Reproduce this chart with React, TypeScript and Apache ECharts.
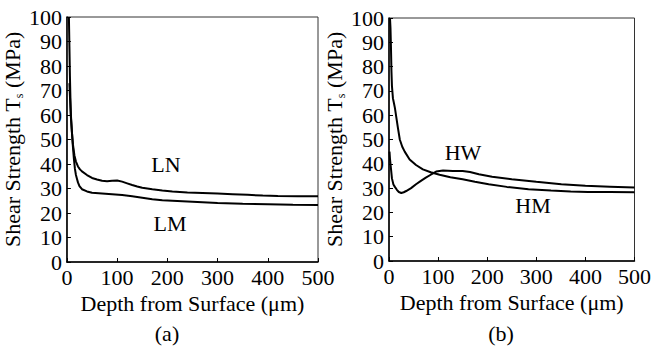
import React, { useEffect, useRef } from "react";
import * as echarts from "echarts";

const xTicks = [0, 100, 200, 300, 400, 500];
const yTicks = [0, 10, 20, 30, 40, 50, 60, 70, 80, 90, 100];

// Panel (a)
const lnData: [number, number][] = [
  [4, 100], [5, 88], [6, 76], [7, 67], [8, 60], [10, 53], [12, 48], [15, 43.5], [18, 41],
  [22, 39], [26, 37.8], [30, 37], [40, 35.5], [50, 34.3], [60, 33.7], [70, 33.2], [80, 33],
  [90, 33.2], [100, 33.3], [110, 32.8], [120, 32.1], [130, 31.4], [140, 30.8], [150, 30.3],
  [170, 29.7], [190, 29.2], [210, 28.8], [240, 28.4], [270, 28.2], [300, 28], [330, 27.7],
  [360, 27.4], [390, 27.1], [420, 26.9], [460, 26.8], [500, 26.8],
];
const lmData: [number, number][] = [
  [5, 73], [6, 68], [7, 63], [8, 59], [10, 53], [12, 47], [14, 42], [16, 38], [18, 35.5],
  [20, 34], [22, 32.5], [25, 31], [30, 29.7], [40, 28.8], [50, 28.3], [70, 28], [90, 27.7],
  [110, 27.3], [130, 26.8], [150, 26.2], [170, 25.6], [190, 25.2], [210, 25], [240, 24.7],
  [270, 24.4], [300, 24.1], [350, 23.8], [400, 23.6], [450, 23.4], [500, 23.3],
];

// Panel (b)
const hmData: [number, number][] = [
  [2, 100], [3, 96], [4, 88], [5, 78], [6, 72], [8, 67], [10, 65], [12, 63], [15, 59],
  [18, 55], [22, 50], [27, 47], [32, 45], [42, 41.8], [55, 39.5], [69, 37.7], [85, 36.5],
  [103, 35.5], [125, 34.5], [150, 33.6], [175, 32.6], [203, 31.6], [240, 30.5], [284, 29.5],
  [330, 29], [370, 28.6], [405, 28.4], [450, 28.4], [500, 28.3],
];
const hwData: [number, number][] = [
  [1, 45], [2, 42], [4, 38], [6, 34], [9, 31.5], [12, 30.5], [16, 29.3], [20, 28.4], [25, 28],
  [30, 28.3], [35, 28.8], [45, 30], [55, 31.6], [65, 33], [75, 34.3], [85, 35.5], [96, 36.8],
  [110, 37.2], [130, 37], [150, 37], [165, 36.6], [183, 35.7], [210, 34.7], [250, 33.6],
  [300, 32.6], [351, 31.6], [400, 31], [450, 30.6], [500, 30.2],
];

const FONT = "Liberation Serif";

export default function App() {
  const ref = useRef<HTMLDivElement>(null);
  useEffect(() => {
    document.body.style.margin = "0";
    const chart = echarts.init(ref.current!, null, { renderer: "svg" });
    const mkX = (gridIndex: number) => ({
      type: "value",
      gridIndex,
      min: xTicks[0],
      max: xTicks[xTicks.length - 1],
      interval: 100,
      name: "Depth from Surface (μm)",
      nameLocation: "middle",
      nameGap: 25,
      nameTextStyle: { fontFamily: FONT, fontSize: 22, color: "#000" },
      axisLine: { show: true, onZero: false, lineStyle: { color: "#000", width: 1.5 } },
      axisTick: { show: true, inside: true, length: 4, lineStyle: { color: "#000" } },
      axisLabel: { fontFamily: FONT, fontSize: 22, color: "#000", margin: 4 },
      splitLine: { show: false },
    });
    const mkY = (gridIndex: number, gap: number) => ({
      type: "value",
      gridIndex,
      min: yTicks[0],
      max: yTicks[yTicks.length - 1],
      interval: 10,
      name: "{a|Shear Strength T}{s|s}{a| (MPa)}",
      nameLocation: "middle",
      nameRotate: 90,
      nameGap: gap,
      nameTextStyle: {
        fontFamily: FONT,
        fontSize: 22,
        color: "#000",
        rich: {
          a: { fontFamily: FONT, fontSize: 22, color: "#000", lineHeight: 26 },
          s: { fontFamily: FONT, fontSize: 12, color: "#000", lineHeight: 14, verticalAlign: "bottom" },
        },
      },
      axisLine: { show: true, onZero: false, lineStyle: { color: "#000", width: 1.5 } },
      axisTick: { show: true, inside: true, length: 4, lineStyle: { color: "#000" } },
      axisLabel: { fontFamily: FONT, fontSize: 22, color: "#000", margin: 5 },
      splitLine: { show: false },
    });
    const line = (name: string, data: [number, number][], idx: number) => ({
      type: "line",
      name,
      data,
      xAxisIndex: idx,
      yAxisIndex: idx,
      showSymbol: false,
      symbol: "none",
      lineStyle: { color: "#000", width: 2 },
    });
    const label = (text: string, x: number, y: number) => ({
      type: "text",
      x,
      y,
      style: {
        text,
        fontFamily: FONT,
        fontSize: 22,
        fill: "#000",
        align: "center",
        verticalAlign: "middle",
      },
    });
    chart.setOption({
      animation: false,
      backgroundColor: "#fff",
      textStyle: { fontFamily: FONT },
      grid: [
        { left: 64, top: 17, width: 254, height: 245, show: true, borderColor: "#333", borderWidth: 1 },
        { left: 389, top: 18, width: 248, height: 243, show: true, borderColor: "#333", borderWidth: 1 },
      ],
      xAxis: [mkX(0), mkX(1)],
      yAxis: [mkY(0, 29), mkY(1, 42)],
      series: [
        line("LN", lnData, 0),
        line("LM", lmData, 0),
        line("HM", hmData, 1),
        line("HW", hwData, 1),
      ],
      graphic: [
        label("LN", 166, 164),
        label("LM", 170, 223),
        label("HW", 463, 152),
        label("HM", 533, 205),
        label("(a)", 167, 333),
        label("(b)", 501, 333),
      ],
    });
    return () => chart.dispose();
  }, []);
  return (
    <div
      ref={ref}
      style={{ position: "fixed", left: 0, top: 0, width: 654, height: 348 }}
    />
  );
}
